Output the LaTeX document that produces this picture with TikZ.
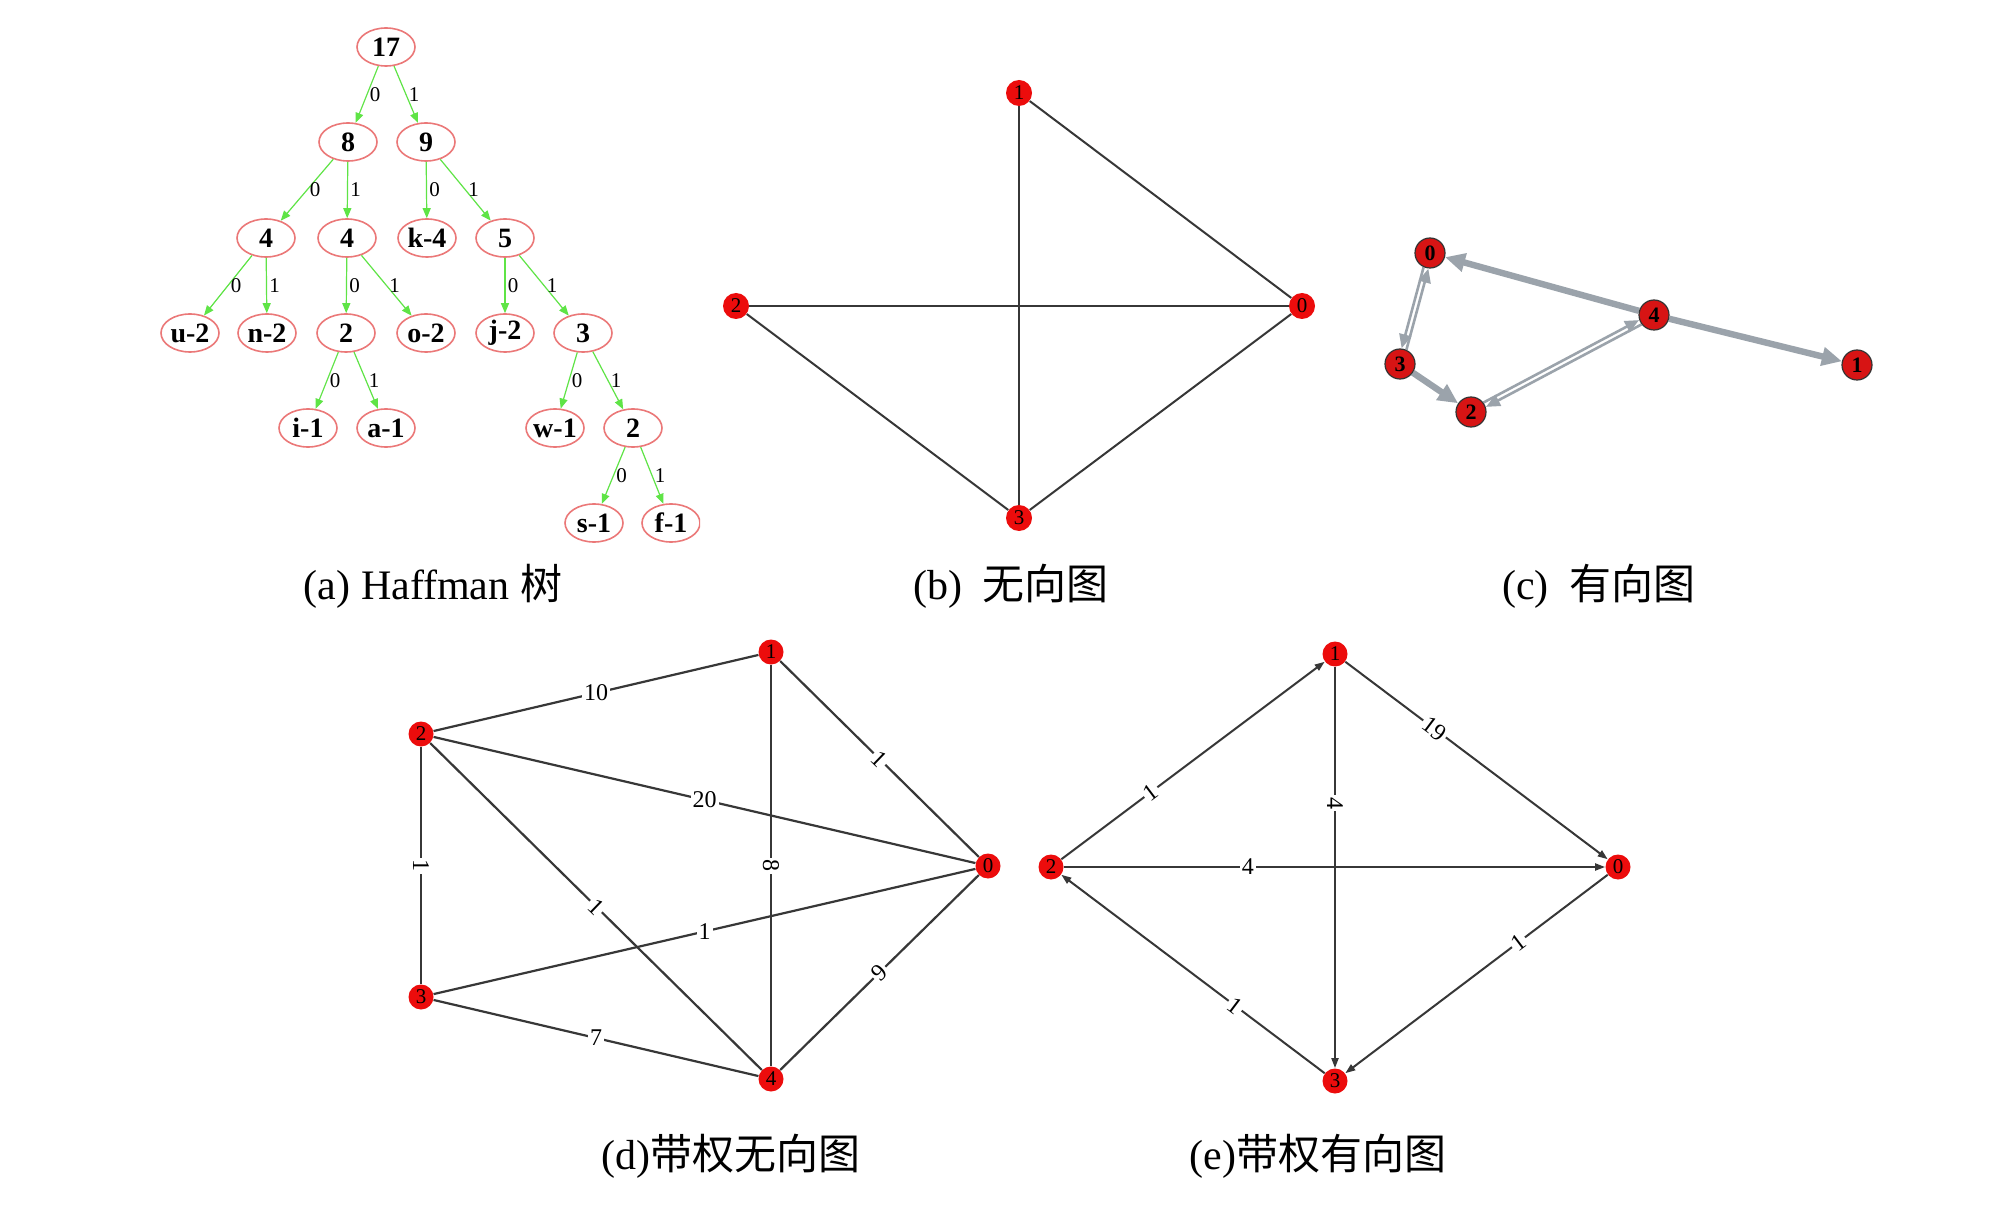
\documentclass[tikz,border=0pt]{standalone}
\usepackage{fontspec}
\setmainfont{Liberation Serif}
\newfontfamily\cjk{Noto Sans CJK SC}
\usetikzlibrary{shapes.geometric,arrows.meta}
\definecolor{tgreen}{RGB}{95,228,70}
\definecolor{tpink}{RGB}{235,120,120}
\definecolor{nred}{RGB}{236,12,12}
\definecolor{cred}{RGB}{215,20,20}
\definecolor{cgray}{RGB}{155,163,171}
\definecolor{egray}{RGB}{55,55,55}
\pgfdeclarelayer{bg}
\pgfdeclarelayer{paper}
\pgfsetlayers{paper,bg,main}
\tikzset{
 tnode/.style={ellipse, draw=tpink, line width=0.8pt, minimum width=29pt, minimum height=19pt, inner xsep=-3pt, inner ysep=0pt, font=\fontsize{14pt}{14pt}\selectfont\bfseries},
 tedge/.style={draw=tgreen, line width=0.6pt, -{Triangle[length=5pt,width=4pt]}},
 tlab/.style={midway, xshift=4pt, font=\fontsize{10.5pt}{10.5pt}\selectfont, inner sep=0pt},
 bnode/.style={circle, fill=nred, minimum size=13pt, inner sep=0pt, font=\fontsize{10.5pt}{10.5pt}\selectfont},
 bedge/.style={draw=egray, line width=1pt},
 cnode/.style={circle, fill=cred, draw=black!80, line width=0.6pt, minimum size=15pt, inner sep=0pt, font=\fontsize{11pt}{11pt}\selectfont\bfseries},
 cthick/.style={draw=cgray, line width=3.2pt, -{Triangle[length=10pt,width=9pt]}},
 cthin/.style={draw=cgray, line width=1.3pt, -{Triangle[length=7pt,width=6pt]}},
 dnode/.style={circle, fill=nred, minimum size=12.5pt, inner sep=0pt, font=\fontsize{10.5pt}{10.5pt}\selectfont},
 dedge/.style={draw=egray, line width=1.1pt},
 dlab/.style={fill=white, inner sep=1pt, font=\fontsize{12pt}{12pt}\selectfont},
 eedge/.style={draw=egray, line width=1pt, -{Triangle[length=5pt,width=3.5pt]}},
 captext/.style={font=\fontsize{21pt}{24pt}\selectfont},
}
\begin{document}
\begin{tikzpicture}[x=0.5pt,y=-0.5pt]
\useasboundingbox (0,0) rectangle (1999,1209);
\begin{pgfonlayer}{paper}
\fill[white] (0,0) rectangle (1999,1209);
\end{pgfonlayer}

% (a) Haffman tree
\begin{scope}
\clip (100,0) rectangle (700,543);
\node[tnode] (t17) at (386,47) {17};
\node[tnode] (t8) at (348,142) {8};
\node[tnode] (t9) at (426,142) {9};
\node[tnode] (t4a) at (266,238) {4};
\node[tnode] (t4b) at (347,238) {4};
\node[tnode] (tk4) at (427,238) {k-4};
\node[tnode] (t5) at (505,238) {5};
\node[tnode] (tu2) at (190,333) {u-2};
\node[tnode] (tn2) at (267,333) {n-2};
\node[tnode] (t2a) at (346,333) {2};
\node[tnode] (to2) at (426,333) {o-2};
\node[tnode] (tj2) at (505,333) {j-2};
\node[tnode] (t3) at (583,333) {3};
\node[tnode] (ti1) at (308,428) {i-1};
\node[tnode] (ta1) at (386,428) {a-1};
\node[tnode] (tw1) at (555,428) {w-1};
\node[tnode] (t2b) at (633,428) {2};
\node[tnode] (ts1) at (594,523) {s-1};
\node[tnode] (tf1) at (671,523) {f-1};
\draw[tedge] (t17) -- node[tlab]{0} (t8);
\draw[tedge] (t17) -- node[tlab]{1} (t9);
\draw[tedge] (t8) -- node[tlab]{0} (t4a);
\draw[tedge] (t8) -- node[tlab]{1} (t4b);
\draw[tedge] (t9) -- node[tlab]{0} (tk4);
\draw[tedge] (t9) -- node[tlab]{1} (t5);
\draw[tedge] (t4a) -- node[tlab]{0} (tu2);
\draw[tedge] (t4a) -- node[tlab]{1} (tn2);
\draw[tedge] (t4b) -- node[tlab]{0} (t2a);
\draw[tedge] (t4b) -- node[tlab]{1} (to2);
\draw[tedge] (t5) -- node[tlab]{0} (tj2);
\draw[tedge] (t5) -- node[tlab]{1} (t3);
\draw[tedge] (t2a) -- node[tlab]{0} (ti1);
\draw[tedge] (t2a) -- node[tlab]{1} (ta1);
\draw[tedge] (t3) -- node[tlab]{0} (tw1);
\draw[tedge] (t3) -- node[tlab]{1} (t2b);
\draw[tedge] (t2b) -- node[tlab]{0} (ts1);
\draw[tedge] (t2b) -- node[tlab]{1} (tf1);
\end{scope}

% (b) undirected graph
\node[bnode] (b1) at (1019,93) {1};
\node[bnode] (b2) at (736,306) {2};
\node[bnode] (b0) at (1302,306) {0};
\node[bnode] (b3) at (1019,518) {3};
\begin{pgfonlayer}{bg}
\draw[bedge] (b1) -- (b0);
\draw[bedge] (b1) -- (b3);
\draw[bedge] (b2) -- (b0);
\draw[bedge] (b2) -- (b3);
\draw[bedge] (b3) -- (b0);
\end{pgfonlayer}

% (c) directed graph
\node[cnode] (c0) at (1430,253) {0};
\node[cnode] (c4) at (1654,315) {4};
\node[cnode] (c3) at (1400,364) {3};
\node[cnode] (c2) at (1471,412) {2};
\node[cnode] (c1) at (1857,365) {1};
\begin{pgfonlayer}{bg}
\draw[cthick] (c4) -- (c0);
\draw[cthick] (c4) -- (c1);
\draw[cthick] (c3) -- (c2);
\draw[cthin, transform canvas={shift={(2.4,0.65)}}] (c3) -- (c0);
\draw[cthin, transform canvas={shift={(-2.4,-0.65)}}] (c0) -- (c3);
\draw[cthin, transform canvas={shift={(1.2,2.2)}}] (c4) -- (c2);
\draw[cthin, transform canvas={shift={(-1.2,-2.2)}}] (c2) -- (c4);
\end{pgfonlayer}

% (d) weighted undirected graph
\node[dnode] (d1) at (771,652) {1};
\node[dnode] (d2) at (421,734) {2};
\node[dnode] (d0) at (988,866) {0};
\node[dnode] (d3) at (421,997) {3};
\node[dnode] (d4) at (771,1079) {4};
\begin{pgfonlayer}{bg}
\draw[dedge] (d2) -- node[dlab]{10} (d1);
\draw[dedge] (d2) -- node[dlab]{20} (d0);
\draw[dedge] (d1) -- node[dlab,rotate=-44]{1} (d0);
\draw[dedge] (d1) -- node[dlab,rotate=-90]{8} (d4);
\draw[dedge] (d2) -- node[dlab,rotate=-90]{1} (d3);
\draw[dedge] (d2) -- node[dlab,rotate=-44]{1} (d4);
\draw[dedge] (d3) -- node[dlab]{1} (d0);
\draw[dedge] (d3) -- node[dlab]{7} (d4);
\draw[dedge] (d0) -- node[dlab,rotate=44]{9} (d4);
\end{pgfonlayer}

% (e) weighted directed graph
\node[dnode] (e1) at (1335,654) {1};
\node[dnode] (e2) at (1051,867) {2};
\node[dnode] (e0) at (1618,867) {0};
\node[dnode] (e3) at (1335,1081) {3};
\begin{pgfonlayer}{bg}
\draw[eedge] (e2) -- node[dlab,pos=0.34,rotate=37]{1} (e1);
\draw[eedge] (e1) -- node[dlab,pos=0.34,rotate=-37]{19} (e0);
\draw[eedge] (e1) -- node[dlab,pos=0.34,rotate=-90]{4} (e3);
\draw[eedge] (e2) -- node[dlab,pos=0.34]{4} (e0);
\draw[eedge] (e0) -- node[dlab,pos=0.34,rotate=37]{1} (e3);
\draw[eedge] (e3) -- node[dlab,pos=0.34,rotate=-37]{1} (e2);
\end{pgfonlayer}

% captions
\node[captext] (capa) at (433,586) {(a) Haffman {\cjk 树}};
\node[captext] (capb) at (1011,586) {(b)\hspace{0.5em}{\cjk 无向图}};
\node[captext] (capc) at (1599,586) {(c)\hspace{0.5em}{\cjk 有向图}};
\node[captext] (capd) at (731,1156) {(d){\cjk 带权无向图}};
\node[captext] (cape) at (1318,1156) {(e){\cjk 带权有向图}};
\end{tikzpicture}
\end{document}
